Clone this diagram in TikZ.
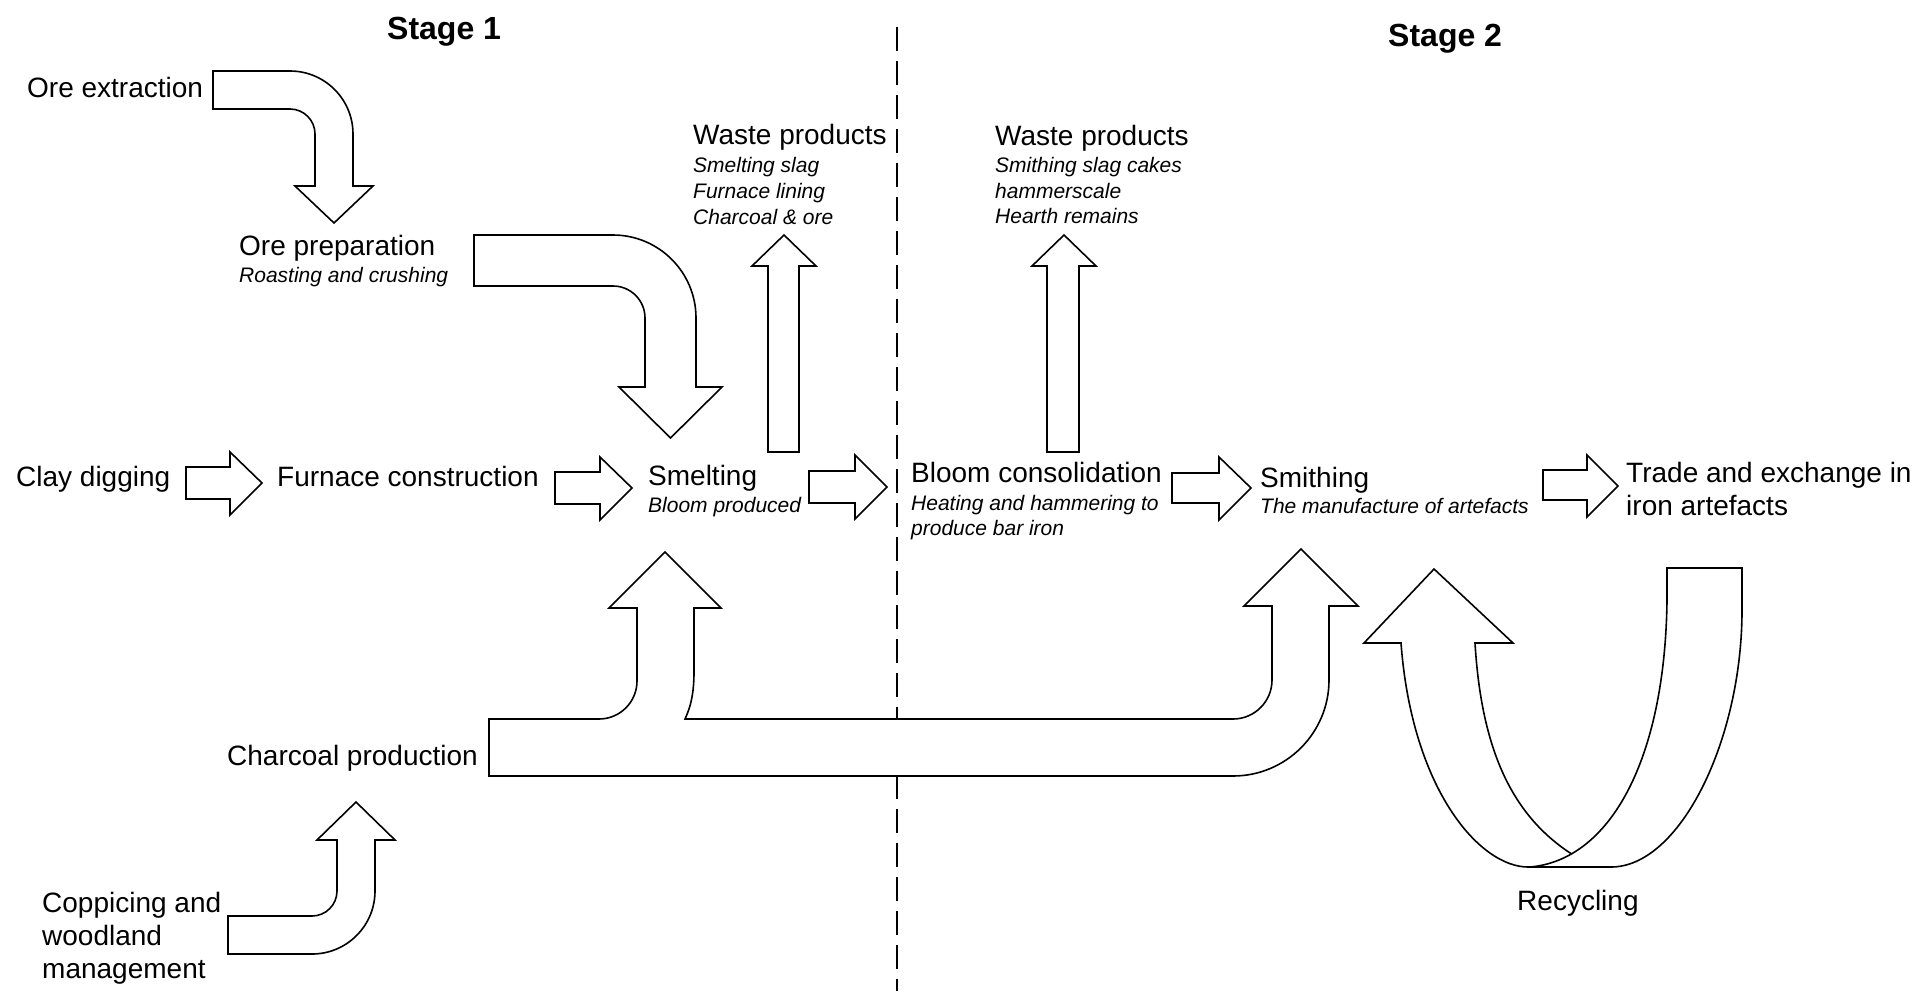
\documentclass[tikz,border=0pt]{standalone}
\usepackage{fontspec}
\setmainfont{Liberation Sans}
\tikzset{
  blk/.style={draw=black, fill=white, line width=1.6pt, line join=miter, miter limit=10},
  lbl/.style={anchor=base west, inner sep=0pt, font=\fontsize{28}{33}\selectfont},
  sub/.style={anchor=base west, inner sep=0pt, font=\fontsize{21}{26}\selectfont\itshape},
  stg/.style={anchor=base west, inner sep=0pt, font=\fontsize{32}{38}\selectfont\bfseries},
  divider/.style={line width=2.4pt, dash pattern=on 24pt off 10pt}
}
\begin{document}
\begin{tikzpicture}[x=1pt, y=-1pt]
\useasboundingbox[fill=white] (0,0) rectangle (1919,991);

% divider between stages
\coordinate (dtop) at (897,27);
\coordinate (dbot) at (897,991);
\draw[divider] (dtop) -- (dbot);

% stage headings
\node[stg] (stage1) at (387,39) {Stage 1};
\node[stg] (stage2) at (1388,46) {Stage 2};

% labels
\node[lbl] (orext) at (27,97) {Ore extraction};
\node[lbl] (oreprep) at (239,255) {Ore preparation};
\node[sub] (oreprepsub) at (239,282) {Roasting and crushing};
\node[lbl] (waste1) at (693,144) {Waste products};
\node[sub] (waste1a) at (693,172) {Smelting slag};
\node[sub] (waste1b) at (693,198) {Furnace lining};
\node[sub] (waste1c) at (693,224) {Charcoal \& ore};
\node[lbl] (waste2) at (995,145) {Waste products};
\node[sub] (waste2a) at (995,172) {Smithing slag cakes};
\node[sub] (waste2b) at (995,198) {hammerscale};
\node[sub] (waste2c) at (995,223) {Hearth remains};
\node[lbl] (clay) at (16,486) {Clay digging};
\node[lbl] (furnace) at (277,486) {Furnace construction};
\node[lbl] (smelt) at (648,485) {Smelting};
\node[sub] (smeltsub) at (648,512) {Bloom produced};
\node[lbl] (bloom) at (911,482) {Bloom consolidation};
\node[sub] (bloomsuba) at (911,510) {Heating and hammering to};
\node[sub] (bloomsubb) at (911,535) {produce bar iron};
\node[lbl] (smith) at (1260,487) {Smithing};
\node[sub] (smithsub) at (1260,513) {The manufacture of artefacts};
\node[lbl] (tradea) at (1626,482) {Trade and exchange in};
\node[lbl] (tradeb) at (1626,515) {iron artefacts};
\node[lbl] (charcoal) at (227,765) {Charcoal production};
\node[lbl] (coppa) at (42,912) {Coppicing and};
\node[lbl] (coppb) at (42,945) {woodland};
\node[lbl] (coppc) at (42,978) {management};
\node[lbl] (recyc) at (1517,910) {Recycling};

% ore extraction -> ore preparation
\draw[blk] (213,71) -- (290,71) .. controls (324.8,71) and (353,99.2) .. (353,134)
  -- (353,186) -- (373,186) -- (334,223) -- (295,186) -- (315,186) -- (315,134)
  .. controls (315,120.2) and (303.8,109) .. (290,109) -- (213,109) -- cycle;

% ore preparation -> smelting
\draw[blk] (474,235) -- (613,235) .. controls (658.8,235) and (696,272.2) .. (696,318)
  -- (696,387) -- (722,387) -- (670.5,438) -- (619,387) -- (645,387) -- (645,318)
  .. controls (645,300.3) and (630.7,286) .. (613,286) -- (474,286) -- cycle;

% waste arrows
\draw[blk] (768,452) -- (768,266) -- (752,266) -- (784,235) -- (816,266) -- (799,266) -- (799,452) -- cycle;
\draw[blk] (1047,452) -- (1047,266) -- (1032,266) -- (1064,235) -- (1096,266) -- (1079,266) -- (1079,452) -- cycle;

% horizontal block arrows
\draw[blk] (186,467) -- (230,467) -- (230,452) -- (262,483) -- (230,515) -- (230,499) -- (186,499) -- cycle;
\draw[blk] (555,472) -- (600,472) -- (600,457) -- (632,488) -- (600,520) -- (600,504) -- (555,504) -- cycle;
\draw[blk] (809,471) -- (855,471) -- (855,455) -- (887,487) -- (855,519) -- (855,503) -- (809,503) -- cycle;
\draw[blk] (1172,473) -- (1219,473) -- (1219,457) -- (1251,488) -- (1219,520) -- (1219,503) -- (1172,503) -- cycle;
\draw[blk] (1543,470) -- (1587,470) -- (1587,455) -- (1618,486) -- (1587,517) -- (1587,500) -- (1543,500) -- cycle;

% charcoal production branches
\draw[blk] (489,719) -- (599,719) .. controls (620,719) and (637,702) .. (637,681)
  -- (637,608) -- (609,608) -- (665,552) -- (721,608) -- (694,608) -- (694,672)
  .. controls (694,700) and (688,712) .. (685,719)
  -- (1233,719) .. controls (1254.5,719) and (1272,701.5) .. (1272,680)
  -- (1272,606) -- (1244,606) -- (1301,549) -- (1358,606) -- (1329,606) -- (1329,680)
  .. controls (1329,733) and (1286,776) .. (1233,776) -- (489,776) -- cycle;

% coppicing -> charcoal
\draw[blk] (228,916) -- (312,916) .. controls (325.8,916) and (337,904.8) .. (337,891)
  -- (337,840) -- (317,840) -- (356,802) -- (395,840) -- (375,840) -- (375,891)
  .. controls (375,925.8) and (346.8,954) .. (312,954) -- (228,954) -- cycle;

% recycling loop
\draw[blk] (1401,643) .. controls (1412,790) and (1480,867) .. (1528,867) -- (1600,867) -- (1600,850)
  -- (1578,858) .. controls (1518,822) and (1482,760) .. (1475,643)
  -- (1513,643) -- (1434,569) -- (1364,643) -- cycle;
\draw[blk] (1667,568) -- (1742,568) -- (1742,610) .. controls (1742,740) and (1680,867) .. (1611,867)
  -- (1530,867) .. controls (1610,860) and (1665,760) .. (1667,600) -- cycle;
\end{tikzpicture}
\end{document}
